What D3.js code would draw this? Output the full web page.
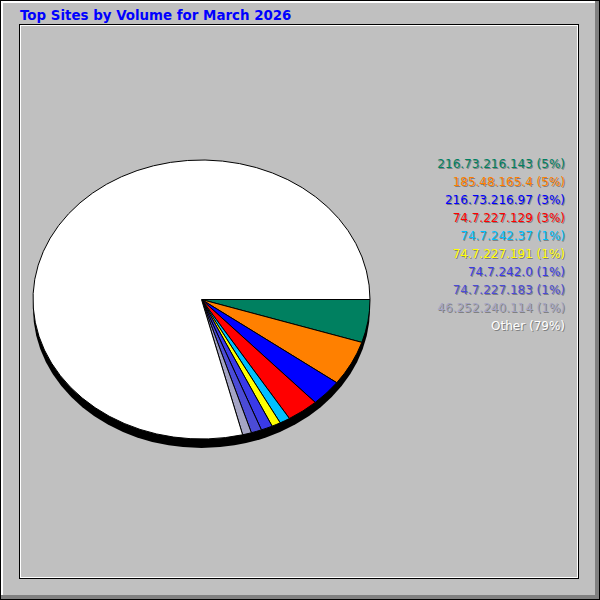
<!DOCTYPE html>
<html><head><meta charset="utf-8">
<script src="https://cdn.jsdelivr.net/npm/d3@7"></script>
<style>body{margin:0;background:#c0c0c0}svg{display:block}</style>
</head><body>
<script>
const title = "Top Sites by Volume for March 2026";
const sites = ["216.73.216.143","185.48.165.4","216.73.216.97","74.7.227.129","74.7.242.37","74.7.227.191","74.7.242.0","74.7.227.183","46.252.240.114","Other"];
const values = [4.97,5.2,3.03,3.06,1.0,0.85,1.1,1.0,0.86,78.9];
const pctLabels = ["5%","5%","3%","3%","1%","1%","1%","1%","1%","79%"];
const colors = ["#008060","#ff8000","#0000ff","#ff0000","#00c0ff","#ffff00","#3a3ae8","#4b4bd6","#a4a4c4","#ffffff"];

const W = 600, H = 600;
const svg = d3.select("body").append("svg").attr("width", W).attr("height", H);

// background and frame
svg.append("rect").attr("width", W).attr("height", H).attr("fill", "#c0c0c0");
const fr = svg.append("g").attr("shape-rendering", "crispEdges");
fr.append("rect").attr("x", 1).attr("y", 1).attr("width", 597).attr("height", 2).attr("fill", "#ffffff");
fr.append("rect").attr("x", 1).attr("y", 1).attr("width", 2).attr("height", 597).attr("fill", "#ffffff");
fr.append("rect").attr("x", 595).attr("y", 1).attr("width", 4).attr("height", 598).attr("fill", "#808080");
fr.append("rect").attr("x", 1).attr("y", 595).attr("width", 598).attr("height", 4).attr("fill", "#808080");
fr.append("rect").attr("x", 0.5).attr("y", 0.5).attr("width", 599).attr("height", 599).attr("fill", "none").attr("stroke", "#000");
fr.append("rect").attr("x", 19.5).attr("y", 24.5).attr("width", 559).attr("height", 554).attr("fill", "none").attr("stroke", "#000");
fr.append("rect").attr("x", 20.5).attr("y", 25.5).attr("width", 557).attr("height", 552).attr("fill", "none").attr("stroke", "#fff");

// title
svg.append("text").attr("x", 20).attr("y", 20)
  .attr("font-family", "DejaVu Sans").attr("font-weight", "bold").attr("font-size", 13.4)
  .attr("fill", "#0000ff").text(title);

// pie
const cx = 201.5, cy = 299.5, rx = 168.5, ry = 139.5, depth = 9;
const pie = d3.pie().sort(null).value(d => d).startAngle(Math.PI / 2).endAngle(Math.PI / 2 + 2 * Math.PI);
const arcs = pie(values);
function pt(a) { return [cx + rx * Math.sin(a), cy - ry * Math.cos(a)]; }
function slicePath(d) {
  const p0 = pt(d.startAngle), p1 = pt(d.endAngle);
  const large = (d.endAngle - d.startAngle) > Math.PI ? 1 : 0;
  return `M${cx},${cy}L${p0[0]},${p0[1]}A${rx},${ry} 0 ${large} 1 ${p1[0]},${p1[1]}Z`;
}
svg.append("ellipse").attr("cx", cx).attr("cy", cy + depth).attr("rx", rx).attr("ry", ry).attr("fill", "#000");
svg.append("g").selectAll("path").data(arcs).join("path")
  .attr("d", slicePath)
  .attr("fill", (d, i) => colors[i])
  .attr("stroke", "#000").attr("stroke-width", 1).attr("stroke-linejoin", "round");

// legend
const ly = d3.scaleLinear().domain([0, sites.length - 1]).range([168, 330]);
const lg = svg.append("g").attr("font-family", "DejaVu Sans").attr("font-size", 12).attr("text-anchor", "end");
sites.forEach((s, i) => {
  const t = `${s} (${pctLabels[i]})`;
  lg.append("text").attr("x", 566).attr("y", ly(i) + 1).attr("fill", "#808080").text(t);
  lg.append("text").attr("x", 565).attr("y", ly(i)).attr("fill", colors[i]).text(t);
});
</script>
</body></html>
